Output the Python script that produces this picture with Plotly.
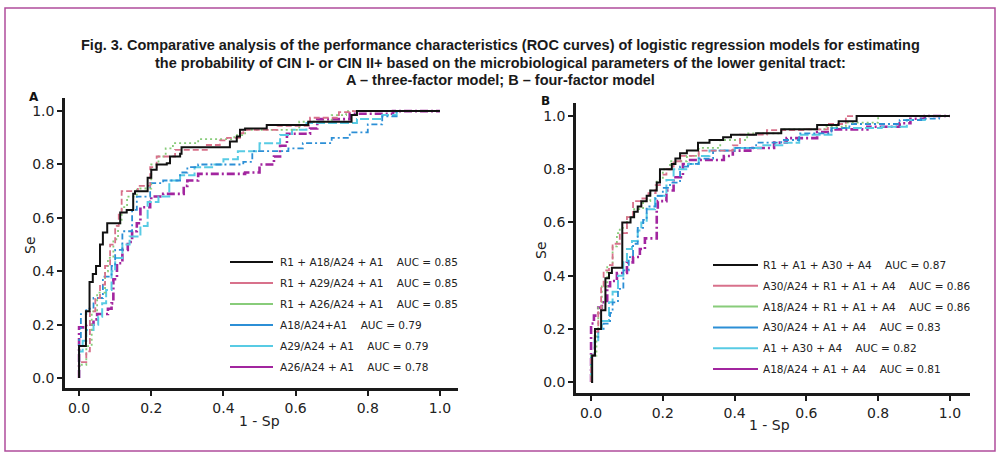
import plotly.graph_objects as go

# ---------------- Panel A : three-factor models (1 - Sp, Se) ----------------
A1_x = [0, 0, 0.019, 0.029, 0.038, 0.047, 0.058, 0.066, 0.078, 0.114, 0.132, 0.15, 0.155, 0.19, 0.20, 0.215, 0.243, 0.252, 0.28, 0.284, 0.418, 0.437, 0.446, 0.46, 0.52, 0.635, 0.755, 0.77, 1.0]
A1_y = [0, 0.12, 0.25, 0.36, 0.39, 0.42, 0.50, 0.545, 0.58, 0.62, 0.63, 0.69, 0.70, 0.75, 0.78, 0.80, 0.805, 0.83, 0.84, 0.865, 0.886, 0.905, 0.93, 0.935, 0.948, 0.96, 0.985, 1.0, 1.0]

A2_x = [0, 0, 0.02, 0.03, 0.045, 0.058, 0.072, 0.086, 0.10, 0.11, 0.118, 0.163, 0.197, 0.215, 0.266, 0.354, 0.39, 0.41, 0.446, 0.455, 0.55, 0.64, 0.72, 0.75, 1.0]
A2_y = [0, 0.06, 0.10, 0.25, 0.30, 0.35, 0.42, 0.50, 0.57, 0.62, 0.70, 0.72, 0.79, 0.83, 0.855, 0.873, 0.89, 0.90, 0.917, 0.93, 0.945, 0.975, 0.996, 1.0, 1.0]

A3_x = [0, 0, 0.02, 0.035, 0.05, 0.072, 0.08, 0.095, 0.108, 0.118, 0.133, 0.16, 0.20, 0.22, 0.24, 0.26, 0.33, 0.43, 0.46, 0.61, 0.70, 0.74, 1.0]
A3_y = [0, 0.05, 0.12, 0.25, 0.32, 0.40, 0.45, 0.52, 0.58, 0.64, 0.68, 0.71, 0.80, 0.83, 0.86, 0.88, 0.895, 0.91, 0.93, 0.96, 0.985, 1.0, 1.0]

A4_x = [0, 0, 0.005, 0.02, 0.04, 0.066, 0.09, 0.10, 0.12, 0.147, 0.16, 0.197, 0.233, 0.28, 0.30, 0.33, 0.455, 0.48, 0.58, 0.62, 0.70, 0.75, 0.80, 0.84, 0.88, 1.0]
A4_y = [0, 0.15, 0.24, 0.26, 0.30, 0.38, 0.42, 0.48, 0.55, 0.63, 0.68, 0.73, 0.74, 0.77, 0.79, 0.80, 0.81, 0.85, 0.86, 0.88, 0.90, 0.92, 0.95, 0.98, 1.0, 1.0]

A5_x = [0, 0, 0.01, 0.02, 0.04, 0.053, 0.064, 0.075, 0.09, 0.10, 0.12, 0.14, 0.17, 0.19, 0.22, 0.25, 0.28, 0.32, 0.375, 0.40, 0.44, 0.50, 0.557, 0.59, 0.63, 0.77, 0.84, 0.88, 1.0]
A5_y = [0, 0.10, 0.14, 0.18, 0.20, 0.23, 0.28, 0.33, 0.40, 0.45, 0.50, 0.53, 0.57, 0.66, 0.68, 0.74, 0.76, 0.79, 0.80, 0.82, 0.85, 0.88, 0.91, 0.93, 0.955, 0.97, 0.985, 1.0, 1.0]

A6_x = [0, 0, 0.02, 0.04, 0.05, 0.08, 0.09, 0.095, 0.105, 0.12, 0.135, 0.147, 0.16, 0.17, 0.197, 0.20, 0.233, 0.29, 0.30, 0.33, 0.46, 0.50, 0.54, 0.557, 0.576, 0.64, 0.66, 0.75, 0.87, 1.0]
A6_y = [0, 0.19, 0.20, 0.22, 0.24, 0.26, 0.28, 0.37, 0.43, 0.48, 0.51, 0.55, 0.58, 0.64, 0.66, 0.68, 0.69, 0.72, 0.74, 0.765, 0.77, 0.80, 0.83, 0.87, 0.915, 0.935, 0.97, 0.99, 1.0, 1.0]

A_labels = ["R1 + A18/A24 + A1    AUC = 0.85",
            "R1 + A29/A24 + A1    AUC = 0.85",
            "R1 + A26/A24 + A1    AUC = 0.85",
            "A18/A24+A1    AUC = 0.79",
            "A29/A24 + A1    AUC = 0.79",
            "A26/A24 + A1    AUC = 0.78"]

# ---------------- Panel B : four-factor models ----------------
B1_x = [0, 0.003, 0.011, 0.028, 0.04, 0.05, 0.058, 0.087, 0.11, 0.12, 0.13, 0.14, 0.155, 0.165, 0.183, 0.192, 0.225, 0.235, 0.248, 0.267, 0.298, 0.33, 0.368, 0.39, 0.46, 0.53, 0.62, 0.63, 0.69, 0.74, 1.0]
B1_y = [0, 0.10, 0.20, 0.27, 0.39, 0.41, 0.43, 0.60, 0.62, 0.64, 0.66, 0.68, 0.70, 0.72, 0.75, 0.80, 0.82, 0.84, 0.86, 0.87, 0.90, 0.91, 0.92, 0.93, 0.935, 0.95, 0.95, 0.966, 0.98, 1.0, 1.0]

B2_x = [0, 0, 0.01, 0.02, 0.028, 0.035, 0.05, 0.06, 0.08, 0.10, 0.117, 0.14, 0.16, 0.18, 0.192, 0.21, 0.23, 0.25, 0.30, 0.395, 0.415, 0.49, 0.60, 0.66, 0.71, 1.0]
B2_y = [0, 0.10, 0.19, 0.27, 0.36, 0.42, 0.44, 0.52, 0.56, 0.62, 0.68, 0.69, 0.71, 0.74, 0.78, 0.80, 0.83, 0.85, 0.87, 0.89, 0.93, 0.947, 0.95, 0.97, 1.0, 1.0]

B3_x = [0, 0, 0.015, 0.02, 0.03, 0.045, 0.06, 0.072, 0.08, 0.10, 0.12, 0.145, 0.165, 0.183, 0.20, 0.22, 0.267, 0.30, 0.36, 0.435, 0.53, 0.65, 0.71, 0.80, 1.0]
B3_y = [0, 0.10, 0.19, 0.28, 0.36, 0.44, 0.51, 0.56, 0.58, 0.62, 0.65, 0.68, 0.72, 0.76, 0.80, 0.83, 0.85, 0.88, 0.91, 0.935, 0.95, 0.96, 0.975, 1.0, 1.0]

B4_x = [0, 0, 0.01, 0.02, 0.035, 0.053, 0.06, 0.075, 0.09, 0.105, 0.117, 0.13, 0.145, 0.155, 0.18, 0.20, 0.22, 0.248, 0.27, 0.30, 0.34, 0.40, 0.46, 0.53, 0.58, 0.67, 0.72, 0.86, 0.92, 0.97, 1.0]
B4_y = [0, 0.10, 0.17, 0.20, 0.22, 0.26, 0.30, 0.35, 0.42, 0.47, 0.52, 0.58, 0.61, 0.66, 0.70, 0.73, 0.75, 0.81, 0.82, 0.84, 0.87, 0.88, 0.90, 0.91, 0.935, 0.955, 0.97, 0.985, 0.99, 1.0, 1.0]

B5_x = [0, 0, 0.01, 0.02, 0.03, 0.05, 0.06, 0.075, 0.09, 0.10, 0.114, 0.13, 0.14, 0.155, 0.178, 0.21, 0.23, 0.27, 0.30, 0.33, 0.40, 0.48, 0.54, 0.58, 0.67, 0.81, 0.88, 0.93, 1.0]
B5_y = [0, 0.10, 0.15, 0.20, 0.23, 0.30, 0.34, 0.40, 0.45, 0.50, 0.53, 0.57, 0.60, 0.65, 0.70, 0.76, 0.80, 0.82, 0.85, 0.87, 0.88, 0.89, 0.90, 0.93, 0.955, 0.96, 0.985, 1.0, 1.0]

B6_x = [0, 0, 0.008, 0.02, 0.03, 0.045, 0.053, 0.072, 0.10, 0.117, 0.136, 0.15, 0.183, 0.186, 0.21, 0.23, 0.256, 0.276, 0.37, 0.395, 0.45, 0.51, 0.545, 0.63, 0.67, 0.77, 0.86, 0.89, 0.93, 1.0]
B6_y = [0, 0.22, 0.25, 0.28, 0.30, 0.36, 0.38, 0.41, 0.45, 0.47, 0.50, 0.54, 0.65, 0.68, 0.72, 0.77, 0.82, 0.835, 0.85, 0.87, 0.88, 0.90, 0.917, 0.94, 0.95, 0.96, 0.973, 0.99, 1.0, 1.0]

B_labels = ["R1 + A1 + A30 + A4    AUC = 0.87",
            "A30/A24 + R1 + A1 + A4    AUC = 0.86",
            "A18/A24 + R1 + A1 + A4    AUC = 0.86",
            "A30/A24 + A1 + A4    AUC = 0.83",
            "A1 + A30 + A4    AUC = 0.82",
            "A18/A24 + A1 + A4    AUC = 0.81"]

tick_vals = [0.0, 0.2, 0.4, 0.6, 0.8, 1.0]
tick_text = ["0.0", "0.2", "0.4", "0.6", "0.8", "1.0"]

# styles (colour, dash, width) shared by the six series of each panel
colors = ["#111111", "#d8718b", "#88cc7a", "#2c8fd6", "#58cbe4", "#a2259f"]
dashes = ["solid", "6px,3px", "2px,3px", "6px,3px,2px,3px", "9px,3px", "8px,3px,2px,3px"]
widths = [2.0, 1.8, 1.8, 1.8, 2.0, 2.6]

W, H = 1000, 456
fig = go.Figure()

A_series = [(A1_x, A1_y), (A2_x, A2_y), (A3_x, A3_y), (A4_x, A4_y), (A5_x, A5_y), (A6_x, A6_y)]
B_series = [(B1_x, B1_y), (B2_x, B2_y), (B3_x, B3_y), (B4_x, B4_y), (B5_x, B5_y), (B6_x, B6_y)]

# draw in reverse so black is on top
for i in reversed(range(6)):
    xs, ys = A_series[i]
    fig.add_trace(go.Scatter(x=xs, y=ys, mode="lines", line_shape="hv", name=A_labels[i],
                             line=dict(color=colors[i], dash=dashes[i], width=widths[i]),
                             xaxis="x", yaxis="y", showlegend=False))
for i in reversed(range(6)):
    xs, ys = B_series[i]
    fig.add_trace(go.Scatter(x=xs, y=ys, mode="lines", line_shape="hv", name=B_labels[i],
                             line=dict(color=colors[i], dash=dashes[i], width=widths[i]),
                             xaxis="x2", yaxis="y2", showlegend=False))

def px(x):
    return x / W

def py(y):
    return 1 - y / H

TICKFONT = dict(family="DejaVu Sans", size=14, color="#222222")
axis_common = dict(showgrid=False, zeroline=False, showline=True, linecolor="#1a1a1a", linewidth=2.5,
                   ticks="outside", ticklen=5, tickwidth=1.5, tickcolor="#1a1a1a",
                   tickvals=tick_vals, ticktext=tick_text, tickfont=TICKFONT, fixedrange=True)

shapes = []
annotations = []

# outer frame
shapes.append(dict(type="rect", xref="paper", yref="paper", x0=px(5), x1=px(995), y0=py(451), y1=py(8),
                   line=dict(color="#b04c9c", width=1.5)))

title_lines = ["Fig. 3. Comparative analysis of the performance characteristics (ROC curves) of logistic regression models for estimating",
               "the probability of CIN I- or CIN II+ based on the microbiological parameters of the lower genital tract:",
               "A \u2013 three-factor model; B \u2013 four-factor model"]
for k, t in enumerate(title_lines):
    annotations.append(dict(text="<b>" + t + "</b>", xref="paper", yref="paper", x=0.5, y=py(45 + 17.5 * k),
                            xanchor="center", yanchor="middle", showarrow=False,
                            font=dict(family="Liberation Sans, Arial", size=14.5, color="#1a1a1a")))

# panel letters
annotations.append(dict(text="<b>A</b>", xref="paper", yref="paper", x=px(34), y=py(97), xanchor="center", yanchor="middle",
                        showarrow=False, font=dict(family="DejaVu Sans", size=12, color="#111")))
annotations.append(dict(text="<b>B</b>", xref="paper", yref="paper", x=px(545), y=py(101), xanchor="center", yanchor="middle",
                        showarrow=False, font=dict(family="DejaVu Sans", size=12, color="#111")))

# axis titles
LABFONT = dict(family="DejaVu Sans", size=14, color="#222222")
annotations.append(dict(text="Se", xref="paper", yref="paper", x=px(30), y=py(245), textangle=-90, xanchor="center",
                        yanchor="middle", showarrow=False, font=LABFONT))
annotations.append(dict(text="Se", xref="paper", yref="paper", x=px(541), y=py(250), textangle=-90, xanchor="center",
                        yanchor="middle", showarrow=False, font=LABFONT))
annotations.append(dict(text="1 - Sp", xref="paper", yref="paper", x=px(259), y=py(421), xanchor="center",
                        yanchor="middle", showarrow=False, font=LABFONT))
annotations.append(dict(text="1 - Sp", xref="paper", yref="paper", x=px(769), y=py(425), xanchor="center",
                        yanchor="middle", showarrow=False, font=LABFONT))

# manual legends
LEGFONT = dict(family="DejaVu Sans", size=10.5, color="#222222")
def add_legend(labels, y0, dy, lx0, lx1, tx):
    for i, lab in enumerate(labels):
        yy = y0 + dy * i
        shapes.append(dict(type="line", xref="paper", yref="paper", x0=px(lx0), x1=px(lx1), y0=py(yy), y1=py(yy),
                           line=dict(color=colors[i], width=2)))
        annotations.append(dict(text=lab.replace(" ", "\u00a0"), xref="paper", yref="paper", x=px(tx), y=py(yy),
                                xanchor="left", yanchor="middle", showarrow=False, font=LEGFONT))

add_legend(A_labels, 262, 21, 230, 273, 278)
add_legend(B_labels, 265, 20.8, 713, 758, 761)

fig.update_layout(
    width=W, height=H, margin=dict(l=0, r=0, t=0, b=0), autosize=False,
    paper_bgcolor="white", plot_bgcolor="white", showlegend=False,
    xaxis=dict(domain=[px(65), px(458)], range=[-0.039, 1.05], anchor="y", **axis_common),
    yaxis=dict(domain=[py(388), py(98)], range=[-0.037, 1.049], anchor="x", **axis_common),
    xaxis2=dict(domain=[px(576), px(970)], range=[-0.042, 1.056], anchor="y2", **axis_common),
    yaxis2=dict(domain=[py(393), py(103)], range=[-0.041, 1.049], anchor="x2", **axis_common),
    shapes=shapes, annotations=annotations,
)

fig.write_html("out.html", config={"displayModeBar": False})
